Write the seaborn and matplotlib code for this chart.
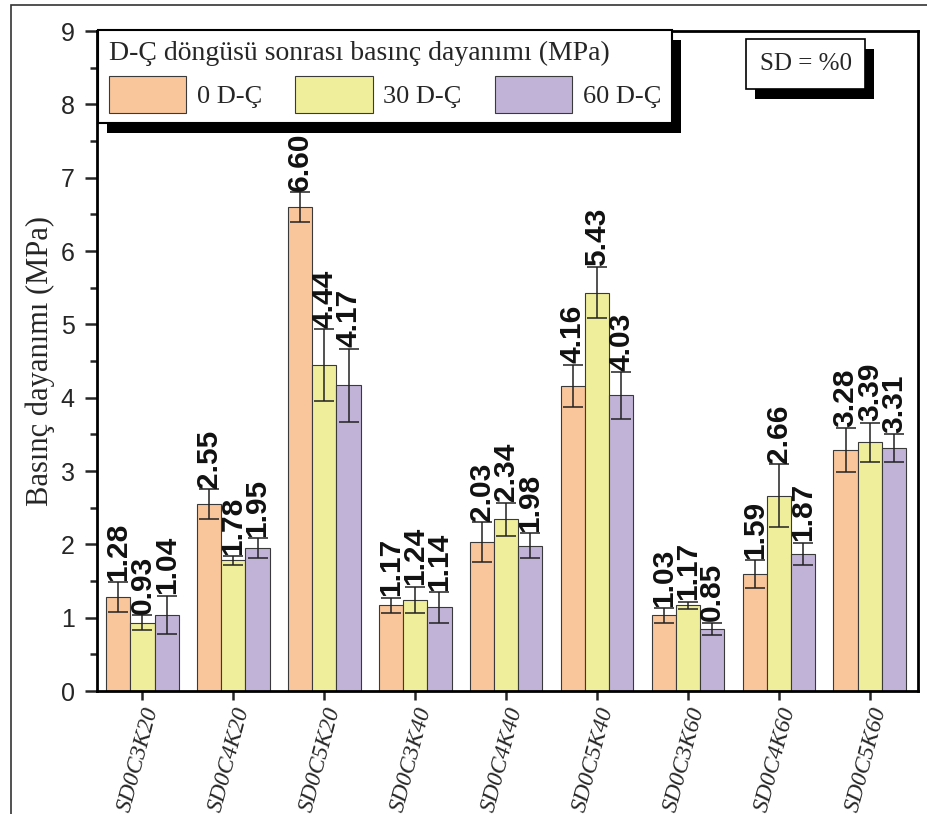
import matplotlib
matplotlib.use("Agg")
import matplotlib.pyplot as plt
import numpy as np
import pandas as pd
import seaborn as sns
from matplotlib.patches import Rectangle
from matplotlib.ticker import MultipleLocator

# values
samples = ["SD0C3K20", "SD0C4K20", "SD0C5K20", "SD0C3K40", "SD0C4K40",
           "SD0C5K40", "SD0C3K60", "SD0C4K60", "SD0C5K60"]
cycles = ["0 D-Ç", "30 D-Ç", "60 D-Ç"]
vals_0 = [1.28, 2.55, 6.60, 1.17, 2.03, 4.16, 1.03, 1.59, 3.28]
vals_30 = [0.93, 1.78, 4.44, 1.24, 2.34, 5.43, 1.17, 2.66, 3.39]
vals_60 = [1.04, 1.95, 4.17, 1.14, 1.98, 4.03, 0.85, 1.87, 3.31]
err_0 = [0.20, 0.20, 0.20, 0.10, 0.27, 0.29, 0.10, 0.19, 0.30]
err_30 = [0.10, 0.06, 0.49, 0.18, 0.23, 0.35, 0.05, 0.43, 0.27]
err_60 = [0.26, 0.13, 0.50, 0.21, 0.17, 0.32, 0.08, 0.15, 0.19]
colors = ["#F9C59A", "#EFEE9B", "#C1B3D8"]

values = [vals_0, vals_30, vals_60]
errors = [err_0, err_30, err_60]

df = pd.DataFrame({
    "sample": samples * 3,
    "cycle": np.repeat(cycles, len(samples)),
    "value": vals_0 + vals_30 + vals_60,
})

sns.set_theme(style="ticks")
plt.rcParams["font.family"] = ["Liberation Serif", "DejaVu Serif"]
plt.rcParams["axes.linewidth"] = 2.0

fig = plt.figure(figsize=(9.28, 8.14), dpi=100)
ax = fig.add_axes([0.1045, 0.1511, 0.8847, 0.8108])

sns.barplot(data=df, x="sample", y="value", hue="cycle", palette=colors,
            saturation=1, width=0.8, edgecolor="#3a3a3a", linewidth=0.8,
            errorbar=None, ax=ax)

# error bars + value labels
bar_groups = list(ax.containers)
for i, cont in enumerate(bar_groups):
    for bar, v, e in zip(cont, values[i], errors[i]):
        xc = bar.get_x() + bar.get_width() / 2
        ax.errorbar(xc, v, yerr=e, color="#222222", elinewidth=1.1,
                    capsize=7, capthick=1.1, zorder=3)
        ax.annotate(f"{v:.2f}", (xc, v + e), xytext=(0, 1),
                    textcoords="offset points", rotation=90,
                    ha="center", va="bottom", fontsize=21.5,
                    fontweight="bold", family="Liberation Sans",
                    color="#111111", zorder=4)

ax.set_xlim(-0.5, 8.53)
ax.set_ylim(0, 9)
ax.set_yticks(range(0, 10))
ax.yaxis.set_minor_locator(MultipleLocator(0.5))
ax.tick_params(axis="y", which="major", length=9, width=1.8, pad=7,
               labelsize=18, direction="out")
ax.tick_params(axis="y", which="minor", length=5, width=1.8, direction="out")
ax.tick_params(axis="x", length=6.5, width=1.8, pad=3, direction="out")
for lbl in ax.get_yticklabels():
    lbl.set_fontfamily("Liberation Sans")
ax.set_xticks(range(len(samples)))
ax.set_xticklabels(samples, rotation=75, ha="right", va="top",
                   rotation_mode="anchor", fontsize=17, fontstyle="italic")
for s in ax.spines.values():
    s.set_visible(True)
    s.set_color("black")
    s.set_linewidth(2.0)
ax.set_xlabel("")
ax.set_ylabel("Basınç dayanımı (MPa)", fontsize=22, labelpad=4)

# legend
handles, labels = ax.get_legend_handles_labels()
leg = ax.legend(handles, labels, title="D-Ç döngüsü sonrası basınç dayanımı (MPa)",
                ncol=3, loc="upper left",
                bbox_to_anchor=(0.1056, 0.70, 0.6185, 0.2631),
                bbox_transform=fig.transFigure, mode="expand",
                borderaxespad=0, fancybox=False, framealpha=1,
                edgecolor="black", prop={"family": "Liberation Serif", "size": 19},
                title_fontproperties={"family": "Liberation Serif", "size": 20},
                alignment="left", handlelength=2.95, handleheight=1.75,
                handletextpad=0.4, columnspacing=1.0, borderpad=0.4,
                labelspacing=0.4)
leg.get_frame().set_linewidth(1.5)
leg.set_zorder(6)

# SD box
sd = ax.text(0.868, 0.9214, "SD = %0", transform=fig.transFigure, fontsize=18,
             ha="center", va="center", zorder=7,
             bbox=dict(boxstyle="square,pad=0.55", fc="white", ec="black", lw=1.2))

# hard black shadows behind legend and SD box
fig.canvas.draw()
inv = fig.transFigure.inverted()
for patch, z in [(leg.get_frame(), 5.5), (sd.get_bbox_patch(), 6.5)]:
    bb = patch.get_window_extent().transformed(inv)
    ax.add_patch(Rectangle((bb.x0 + 9 / 928, bb.y0 - 10 / 814), bb.width, bb.height,
                           transform=fig.transFigure, fc="black", ec="none",
                           clip_on=False, zorder=z))

# outer frame of the figure image
fig.add_artist(Rectangle((11 / 928, -1), 2, 1 + 1 - 5 / 814,
                         transform=fig.transFigure, fill=False,
                         ec="#333333", lw=1.2))

fig.savefig("out.png", dpi=100)
